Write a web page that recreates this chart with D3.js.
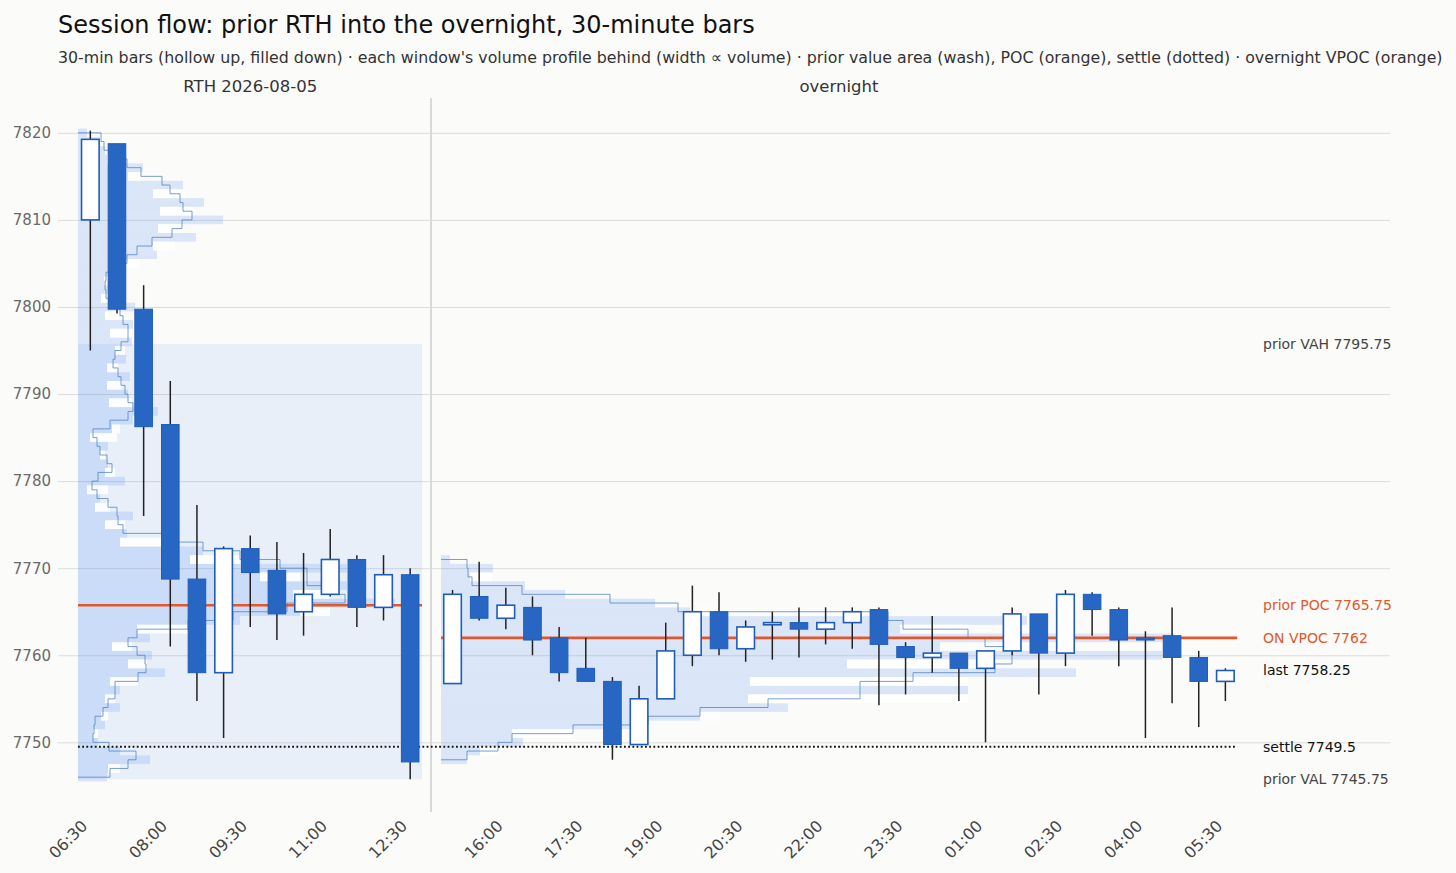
<!DOCTYPE html>
<html><head><meta charset="utf-8">
<script src="https://cdn.jsdelivr.net/npm/d3@7"></script>
<style>
body{margin:0;background:#fbfbf9;}
svg{display:block;font-family:"DejaVu Sans",sans-serif;}
</style>
</head><body>
<svg id="c" width="1456" height="873"></svg>
<script>
// ---------------- data ----------------
const priceTicks = [7750, 7760, 7770, 7780, 7790, 7800, 7810, 7820];
const rthTickLabels = ["06:30", "08:00", "09:30", "11:00", "12:30"];
const onTickLabels = ["16:00", "17:30", "19:00", "20:30", "22:00", "23:30", "01:00", "02:30", "04:00", "05:30"];

// [time, open, high, low, close]
const rthBars = [
  ["06:30", 7810.00, 7820.25, 7795.00, 7819.25],
  ["07:00", 7818.75, 7818.75, 7799.25, 7799.75],
  ["07:30", 7799.75, 7802.50, 7776.00, 7786.25],
  ["08:00", 7786.50, 7791.50, 7761.00, 7768.75],
  ["08:30", 7768.75, 7777.25, 7754.75, 7758.00],
  ["09:00", 7758.00, 7772.50, 7750.50, 7772.25],
  ["09:30", 7772.25, 7773.75, 7763.25, 7769.50],
  ["10:00", 7769.75, 7773.00, 7761.75, 7764.75],
  ["10:30", 7765.00, 7771.75, 7762.25, 7767.00],
  ["11:00", 7767.00, 7774.50, 7766.75, 7771.00],
  ["11:30", 7771.00, 7771.50, 7763.25, 7765.50],
  ["12:00", 7765.50, 7771.50, 7764.00, 7769.25],
  ["12:30", 7769.25, 7770.00, 7745.75, 7747.75]
];
const onBars = [
  ["15:00", 7756.75, 7767.50, 7756.75, 7767.00],
  ["15:30", 7766.75, 7770.75, 7764.00, 7764.25],
  ["16:00", 7764.25, 7767.75, 7763.00, 7765.75],
  ["16:30", 7765.50, 7766.75, 7760.00, 7761.75],
  ["17:00", 7762.00, 7763.25, 7757.00, 7758.00],
  ["17:30", 7758.50, 7762.00, 7757.00, 7757.00],
  ["18:00", 7757.00, 7757.50, 7748.00, 7749.75],
  ["18:30", 7749.75, 7756.50, 7749.75, 7755.00],
  ["19:00", 7755.00, 7763.75, 7755.00, 7760.50],
  ["19:30", 7760.00, 7768.00, 7758.75, 7765.00],
  ["20:00", 7765.00, 7767.25, 7760.00, 7760.75],
  ["20:30", 7760.75, 7764.00, 7759.25, 7763.25],
  ["21:00", 7763.50, 7765.00, 7759.50, 7763.75],
  ["21:30", 7763.75, 7765.50, 7759.75, 7763.00],
  ["22:00", 7763.00, 7765.50, 7761.25, 7763.75],
  ["22:30", 7763.75, 7765.50, 7760.75, 7765.00],
  ["23:00", 7765.25, 7765.50, 7754.25, 7761.25],
  ["23:30", 7761.00, 7761.50, 7755.50, 7759.75],
  ["00:00", 7759.75, 7764.50, 7758.00, 7760.25],
  ["00:30", 7760.25, 7760.25, 7754.75, 7758.50],
  ["01:00", 7758.50, 7760.50, 7750.00, 7760.50],
  ["01:30", 7760.50, 7765.50, 7760.00, 7764.75],
  ["02:00", 7764.75, 7764.75, 7755.50, 7760.25],
  ["02:30", 7760.25, 7767.50, 7758.75, 7767.00],
  ["03:00", 7767.00, 7767.25, 7762.25, 7765.25],
  ["03:30", 7765.25, 7765.50, 7758.75, 7761.75],
  ["04:00", 7762.00, 7762.75, 7750.50, 7761.75],
  ["04:30", 7762.25, 7765.50, 7754.50, 7759.75],
  ["05:00", 7759.75, 7760.50, 7751.75, 7757.00],
  ["05:30", 7757.00, 7758.50, 7754.75, 7758.25]
];

// reference levels
const priorVAH = 7795.75, priorVAL = 7745.75, priorPOC = 7765.75;
const onVPOC = 7762, settle = 7749.5, lastPx = 7758.25;

// volume profiles: [price, volume, secondary volume]
const rthProfile = [
  [7820,9,0],[7819,22,26],[7818,27,0],[7817,29,34],[7816,65,0],[7815,50,62],[7814,105,0],[7813,75,107],
  [7812,126,0],[7811,82,114],[7810,145,0],[7809,80,105],[7808,118,0],[7807,75,97],[7806,79,0],[7805,47,62],
  [7804,32,0],[7803,26,34],[7802,30,0],[7801,23,30],[7800,57,0],[7799,27,40],[7798,55,0],[7797,32,52],
  [7796,54,0],[7795,37,47],[7794,48,0],[7793,29,40],[7792,52,0],[7791,29,44],[7790,50,0],[7789,31,54],
  [7788,80,0],[7787,55,62],[7786,34,42],[7785,12,39],[7784,30,0],[7783,22,27],[7782,30,0],[7781,27,37],
  [7780,47,0],[7779,9,30],[7778,22,0],[7777,17,32],[7776,55,0],[7775,27,47],[7774,49,0],[7773,42,84],
  [7772,125,0],[7771,112,162],[7770,269,0],[7769,182,222],[7768,269,0],[7767,215,252],[7766,317,0],[7765,222,252],
  [7764,162,0],[7763,59,110],[7762,72,0],[7761,34,54],[7760,74,0],[7759,50,69],[7758,87,0],[7757,32,60],
  [7756,42,0],[7755,27,37],[7754,42,0],[7753,23,30],[7752,27,0],[7751,15,20],[7750,20,0],[7749,42,0],
  [7748,72,0],[7747,30,42],[7746,29,0]
];
// smoothed outline: [lower price of 1-pt bin, volume]
const rthSmooth = [
  [7819,23],[7818,26],[7817,34],[7816,49],[7815,63],[7814,84],[7813,92],[7812,102],[7811,105],[7810,114],
  [7809,104],[7808,94],[7807,74],[7806,59],[7805,49],[7804,34],[7803,28],[7802,27],[7801,28],[7800,38],
  [7799,42],[7798,45],[7797,50],[7796,50],[7795,43],[7794,37],[7793,35],[7792,40],[7791,43],[7790,47],
  [7789,50],[7788,55],[7787,50],[7786,32],[7785,15],[7784,19],[7783,22],[7782,29],[7781,34],[7780,20],
  [7779,14],[7778,19],[7777,30],[7776,39],[7775,40],[7774,45],[7773,84],[7772,125],[7771,162],[7770,202],
  [7769,229],[7768,229],[7767,252],[7766,267],[7765,209],[7764,155],[7763,110],[7762,59],[7761,50],[7760,59],
  [7759,67],[7758,68],[7757,60],[7756,37],[7755,37],[7754,30],[7753,25],[7752,17],[7751,16],[7750,15],
  [7749,31],[7748,58],[7747,50],[7746,32]
];
const onProfile = [
  [7771,9,0],[7770,52,0],[7769,29,51],[7768,84,0],[7767,124,0],[7766,214,0],[7765,249,279],[7764,586,0],
  [7763,459,527],[7762,734,0],[7761,499,0],[7760,721,0],[7759,406,556],[7758,635,0],[7757,309,527],[7756,527,0],
  [7755,307,527],[7754,347,0],[7753,259,279],[7752,189,0],[7751,71,132],[7750,82,0],[7749,39,59],[7748,26,0]
];
const onSmooth = [
  [7770,26],[7769,27],[7768,31],[7767,81],[7766,169],[7765,237],[7764,447],[7763,462],[7762,527],[7761,544],
  [7760,571],[7759,571],[7758,554],[7757,472],[7756,419],[7755,419],[7754,327],[7753,259],[7752,207],[7751,132],
  [7750,71],[7749,57],[7748,26]
];

// ---------------- drawing ----------------
const svg = d3.select("#c");
const W = 1456, H = 873;
svg.append("rect").attr("width", W).attr("height", H).attr("fill", "#fbfbf9");

const plotTop = 98, plotBot = 812, gridL = 58, gridR = 1390;
const y = d3.scaleLinear().domain([7742, 7824]).range([plotBot, plotTop]);
const xR = d3.scaleBand().domain(rthBars.map(d => d[0])).range([77, 423.5]).padding(0);
const xO = d3.scaleBand().domain(onBars.map(d => d[0])).range([439.2, 1238.7]).padding(0);
const vol = d3.scaleLinear().domain([0, 100]).range([0, 100]);
const rthX0 = 78, onX0 = 441;

const blue = "#2f7ef0";

// title
svg.append("text").attr("x", 58).attr("y", 33).attr("font-size", 24).attr("fill", "#111")
  .text("Session flow: prior RTH into the overnight, 30-minute bars");
svg.append("text").attr("x", 58).attr("y", 63).attr("font-size", 15.8).attr("fill", "#333")
  .text("30-min bars (hollow up, filled down) \u00b7 each window's volume profile behind (width \u221d volume) \u00b7 prior value area (wash), POC (orange), settle (dotted) \u00b7 overnight VPOC (orange)");

// window headers
svg.append("text").attr("x", (xR.range()[0] + xR.range()[1]) / 2).attr("y", 92).attr("text-anchor", "middle")
  .attr("font-size", 16.5).attr("fill", "#333").text("RTH 2026-08-05");
svg.append("text").attr("x", (xO.range()[0] + xO.range()[1]) / 2).attr("y", 92).attr("text-anchor", "middle")
  .attr("font-size", 16.5).attr("fill", "#333").text("overnight");

// grid + y axis
const yAxis = d3.axisLeft(y).tickValues(priceTicks).tickSize(-(gridR - gridL)).tickPadding(7).tickFormat(d3.format("d"));
const gy = svg.append("g").attr("transform", `translate(${gridL},0)`).call(yAxis);
gy.select(".domain").remove();
gy.selectAll(".tick line").attr("stroke", "#dcdcdc").attr("stroke-width", 1);
gy.selectAll(".tick text").attr("font-size", 15).attr("fill", "#6a6a6a").attr("font-family", "DejaVu Sans");

// divider
svg.append("line").attr("x1", 431).attr("x2", 431).attr("y1", plotTop).attr("y2", plotBot)
  .attr("stroke", "#d9d9d9").attr("stroke-width", 2);

// prior value area wash
svg.append("rect").attr("x", rthX0).attr("width", xR.range()[1] - 1.5 - rthX0)
  .attr("y", y(priorVAH)).attr("height", y(priorVAL) - y(priorVAH))
  .attr("fill", blue).attr("opacity", 0.09);

function drawProfile(prof, smooth, x0) {
  const g = svg.append("g");
  const rowY = d => y(d[0] + 0.5), rowH = d => y(d[0] - 0.5) - y(d[0] + 0.5);
  g.selectAll("rect.v").data(prof).join("rect")
    .attr("x", x0).attr("width", d => vol(d[1]))
    .attr("y", rowY).attr("height", rowH)
    .attr("fill", blue).attr("opacity", 0.16);
  g.selectAll("rect.alt").data(prof.filter(d => d[2] > d[1])).join("rect")
    .attr("x", d => x0 + vol(d[1])).attr("width", d => vol(d[2]) - vol(d[1]))
    .attr("y", rowY).attr("height", rowH)
    .attr("fill", "#ffffff").attr("opacity", 0.85);
  const pts = [[x0, y(smooth[0][0] + 1)]];
  smooth.forEach(d => { pts.push([x0 + vol(d[1]), y(d[0] + 1)]); pts.push([x0 + vol(d[1]), y(d[0])]); });
  pts.push([x0, y(smooth[smooth.length - 1][0])]);
  g.append("path").attr("d", d3.line()(pts)).attr("fill", "none")
    .attr("stroke", "#4f7fc0").attr("stroke-width", 1).attr("opacity", 0.75);
}
drawProfile(rthProfile, rthSmooth, rthX0);
drawProfile(onProfile, onSmooth, onX0);

// reference lines
svg.append("line").attr("x1", rthX0).attr("x2", xR.range()[1] - 1.5).attr("y1", y(priorPOC)).attr("y2", y(priorPOC))
  .attr("stroke", "#e2582c").attr("stroke-width", 2.6);
svg.append("line").attr("x1", onX0).attr("x2", xO.range()[1] - 1.5).attr("y1", y(onVPOC)).attr("y2", y(onVPOC))
  .attr("stroke", "#e2582c").attr("stroke-width", 2.6);
svg.append("line").attr("x1", rthX0).attr("x2", xO.range()[1] - 1.5).attr("y1", y(settle)).attr("y2", y(settle))
  .attr("stroke", "#111").attr("stroke-width", 2).attr("stroke-dasharray", "1.8,2.4");

// candles
function drawCandles(bars, x) {
  const bw = x.bandwidth() * 0.66;
  const g = svg.append("g");
  const c = g.selectAll("g").data(bars).join("g")
    .attr("transform", d => `translate(${x(d[0]) + x.bandwidth() / 2},0)`);
  c.append("line").attr("y1", d => y(d[2])).attr("y2", d => y(d[3]))
    .attr("stroke", "#222").attr("stroke-width", 1.5);
  c.append("rect").attr("x", -bw / 2).attr("width", bw)
    .attr("y", d => y(Math.max(d[1], d[4])))
    .attr("height", d => Math.max(1.5, Math.abs(y(d[1]) - y(d[4]))))
    .attr("fill", d => d[4] >= d[1] ? "#ffffff" : "#2766c2")
    .attr("stroke", "#1f5db8").attr("stroke-width", d => d[4] >= d[1] ? 1.6 : 1);
}
drawCandles(rthBars, xR);
drawCandles(onBars, xO);

// x tick labels
function xLabels(labels, x) {
  svg.append("g").selectAll("text").data(labels).join("text")
    .attr("transform", d => `translate(${x(d) + x.bandwidth() / 2 - 2},827) rotate(-45)`)
    .attr("text-anchor", "end").attr("font-size", 16).attr("fill", "#444").text(d => d);
}
xLabels(rthTickLabels, xR);
xLabels(onTickLabels, xO);

// right-side level labels
const rightLabels = [
  ["prior VAH " + priorVAH, priorVAH, "#444"],
  ["prior POC " + priorPOC, priorPOC, "#e2582c"],
  ["ON VPOC " + onVPOC, onVPOC, "#e2582c"],
  ["last " + lastPx, lastPx, "#111"],
  ["settle " + settle, settle, "#111"],
  ["prior VAL " + priorVAL, priorVAL, "#444"]
];
svg.append("g").selectAll("text").data(rightLabels).join("text")
  .attr("x", 1263).attr("y", d => y(d[1])).attr("dy", "0.35em")
  .attr("font-size", 14).attr("fill", d => d[2]).text(d => d[0]);
</script>
</body></html>
